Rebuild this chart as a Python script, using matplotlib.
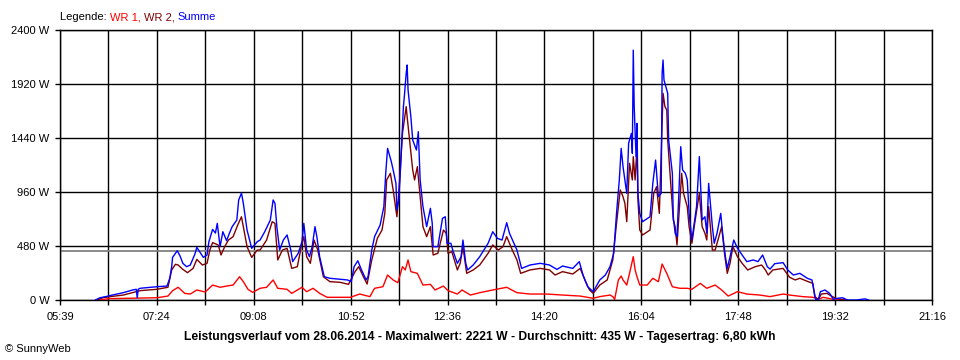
import matplotlib
matplotlib.use("Agg")
import matplotlib.pyplot as plt
from matplotlib.ticker import FixedLocator, NullFormatter

plt.rcParams['font.family'] = ['Liberation Sans', 'DejaVu Sans']

# ---------------- data ----------------
summe_t = ["06:17","06:22","06:31","06:33","06:47","06:57","07:01","07:02","07:03","07:05","07:23","07:34",
           "07:37","07:39","07:40","07:45","07:48","07:51","07:55","07:59","08:04","08:06","08:09","08:13",
           "08:17","08:19","08:23","08:26","08:28","08:31","08:34","08:38","08:41","08:44","08:49","08:51",
           "08:54","08:56","09:00","09:05","09:11","09:14","09:19","09:25","09:28","09:30","09:32","09:35",
           "09:39","09:43","09:47","09:49","09:55","09:59","10:01","10:04","10:07","10:10","10:13","10:15",
           "10:18","10:23","10:29","10:40","10:48","10:52","10:55","10:59","11:03","11:08","11:10","11:14",
           "11:17","11:23","11:27","11:29","11:31","11:35","11:37","11:40","11:41","11:43","11:45","11:48",
           "11:49","11:51","11:52","11:53","11:56","11:58","12:02","12:04","12:06","12:09","12:13","12:17",
           "12:19","12:20","12:25","12:30","12:33","12:35","12:39","12:41","12:46","12:50","12:52","12:55",
           "12:57","13:03","13:10","13:19","13:24","13:29","13:34","13:39","13:42","13:50","13:55","14:04",
           "14:15","14:25","14:33","14:39","14:50","14:57","15:01","15:06","15:12","15:17","15:19","15:25",
           "15:30","15:34","15:37","15:40","15:42","15:44","15:46","15:48","15:50","15:53","15:54","15:55",
           "15:56","15:58","15:59","16:00","16:02","16:05","16:13","16:16","16:19","16:22","16:25","16:26",
           "16:27","16:28","16:30","16:32","16:33","16:35","16:37","16:38","16:40","16:42","16:44","16:46",
           "16:48","16:51","16:53","16:55","16:58","17:00","17:03","17:06","17:09","17:12","17:14","17:16",
           "17:20","17:22","17:25","17:29","17:31","17:34","17:36","17:39","17:43","17:47","17:52","17:57",
           "18:04","18:09","18:14","18:19","18:22","18:27","18:36","18:41","18:47","18:54","19:02","19:07",
           "19:09","19:11","19:14","19:16","19:21","19:26","19:30","19:34","19:40","19:45","19:55","20:04",
           "20:08"]
summe_w = [0, 20, 35, 40, 65, 89, 95, 20, 95, 104, 118, 124,
           195, 296, 379, 438, 391, 326, 296, 311, 409, 468, 430, 379,
           400, 518, 628, 595, 681, 474, 607, 527, 593, 652, 711, 889,
           950, 859, 622, 459, 518, 533, 607, 711, 889, 859, 652, 444,
           533, 578, 444, 341, 415, 518, 681, 444, 385, 474, 652, 563,
           385, 207, 193, 184, 178, 163, 296, 349, 267, 178, 207, 444,
           563, 667, 830, 1126, 1348, 1230, 1156, 1037, 800, 889, 1185, 1719,
           1807, 2015, 2089, 1867, 1630, 1422, 1333, 1496, 1067, 830, 652, 815,
           681, 474, 474, 726, 740, 504, 504, 444, 326, 385, 533, 326,
           267, 311, 385, 504, 607, 548, 533, 687, 593, 444, 281, 311,
           326, 311, 272, 302, 281, 341, 222, 118, 74, 148, 178, 222,
           296, 415, 770, 1067, 1348, 1185, 1067, 948, 1393, 1481, 1304, 2221,
           1719, 1274, 1570, 948, 770, 696, 740, 1037, 1244, 918, 948, 2015,
           2133, 1956, 1896, 1837, 1422, 1274, 1126, 740, 593, 563, 948, 1363,
           1156, 1126, 1067, 770, 533, 652, 830, 1274, 711, 740, 593, 1037,
           652, 504, 593, 770, 593, 385, 281, 385, 533, 459, 400, 341,
           356, 341, 400, 296, 275, 323, 332, 267, 222, 237, 193, 178,
           89, 6, 6, 74, 89, 59, 6, 15, 20, 0, 0, 10,
           0]

wr2_t = ["06:19","06:25","06:33","06:47","07:05","07:23","07:35","07:39","07:43","07:46","07:51","07:56",
         "08:02","08:06","08:12","08:17","08:20","08:23","08:29","08:32","08:36","08:40","08:45","08:50",
         "08:54","08:56","09:00","09:05","09:11","09:14","09:21","09:27","09:30","09:33","09:38","09:43",
         "09:48","09:54","09:59","10:01","10:04","10:08","10:12","10:16","10:22","10:29","10:40","10:49",
         "10:56","11:00","11:05","11:09","11:14","11:20","11:25","11:28","11:30","11:34","11:37","11:41",
         "11:43","11:47","11:49","11:51","11:52","11:55","11:58","12:00","12:03","12:06","12:09","12:13",
         "12:17","12:20","12:25","12:31","12:34","12:36","12:40","12:46","12:49","12:52","12:56","13:03",
         "13:10","13:19","13:24","13:30","13:35","13:39","13:45","13:50","13:54","14:04","14:15","14:25",
         "14:31","14:39","14:50","14:58","15:03","15:08","15:12","15:19","15:27","15:33","15:37","15:41",
         "15:44","15:46","15:48","15:51","15:54","15:55","15:57","15:59","16:00","16:02","16:05","16:13",
         "16:17","16:20","16:23","16:26","16:27","16:29","16:31","16:32","16:35","16:38","16:40","16:42",
         "16:44","16:47","16:49","16:53","16:55","16:58","17:01","17:06","17:09","17:12","17:14","17:16",
         "17:20","17:23","17:26","17:30","17:33","17:36","17:39","17:42","17:47","17:52","17:58","18:06",
         "18:13","18:17","18:20","18:25","18:36","18:43","18:49","18:54","19:03","19:08","19:10","19:14",
         "19:17","19:23","19:29","19:34","19:40","19:45"]
wr2_w = [0, 20, 30, 44, 83, 95, 113, 267, 317, 311, 272, 243,
         281, 361, 311, 326, 444, 510, 489, 400, 474, 533, 563, 667,
         740, 652, 474, 379, 444, 444, 533, 696, 681, 356, 444, 459,
         281, 296, 504, 563, 385, 326, 533, 444, 207, 163, 157, 139,
         252, 296, 207, 142, 356, 548, 622, 770, 1067, 1126, 978, 740,
         948, 1481, 1600, 1719, 1630, 1393, 1156, 1067, 1185, 918, 652, 563,
         652, 400, 415, 622, 593, 415, 430, 267, 326, 474, 237, 267,
         311, 415, 489, 444, 474, 563, 444, 356, 237, 267, 281, 267,
         222, 252, 231, 281, 178, 89, 59, 133, 178, 356, 681, 978,
         918, 859, 696, 1215, 1067, 1274, 1067, 1363, 889, 622, 578, 622,
         948, 1007, 770, 1570, 1837, 1719, 1689, 1422, 1067, 711, 652, 489,
         740, 1126, 948, 830, 652, 504, 681, 948, 652, 593, 533, 830,
         444, 444, 533, 652, 415, 237, 326, 474, 385, 326, 267, 296,
         311, 267, 222, 267, 281, 202, 178, 193, 163, 148, 30, 6,
         53, 59, 30, 10, 5, 0]

wr1_t = ["06:22","06:31","07:23","07:35","07:40","07:46","07:53","07:59","08:06","08:15","08:23","08:31",
         "08:38","08:45","08:52","08:56","09:01","09:06","09:14","09:21","09:28","09:33","09:43","09:48",
         "09:59","10:04","10:11","10:18","10:26","10:51","10:58","11:01","11:12","11:17","11:26","11:31",
         "11:37","11:42","11:47","11:50","11:53","11:56","12:03","12:09","12:17","12:22","12:31","12:36",
         "12:46","12:51","13:00","13:10","13:24","13:39","13:50","14:04","14:22","14:39","14:58","15:12",
         "15:19","15:30","15:33","15:35","15:39","15:42","15:44","15:48","15:51","15:55","15:57","15:59",
         "16:02","16:10","16:16","16:22","16:26","16:31","16:37","16:45","16:53","16:58","17:07","17:14",
         "17:23","17:30","17:37","17:47","17:57","18:11","18:22","18:36","18:43","18:57","19:08","19:14",
         "19:19","19:30","19:37"]
wr1_w = [0, 12, 20, 35, 83, 113, 59, 53, 89, 71, 133, 113,
         124, 133, 207, 163, 95, 68, 104, 113, 178, 104, 95, 59,
         113, 74, 104, 59, 24, 24, 44, 53, 30, 104, 118, 222,
         178, 154, 296, 267, 356, 252, 237, 133, 139, 89, 124, 83,
         53, 89, 44, 65, 89, 113, 65, 53, 53, 44, 35, 15,
         30, 44, 30, 5, 178, 213, 178, 133, 237, 385, 267, 207,
         133, 133, 193, 163, 320, 237, 118, 104, 104, 95, 148, 104,
         133, 89, 35, 74, 53, 44, 30, 53, 44, 30, 24, 6,
         24, 6, 0]

durchschnitt = 435
x_labels = ["05:39", "07:24", "09:08", "10:52", "12:36", "14:20", "16:04", "17:48", "19:32", "21:16"]
y_values = [0, 480, 960, 1440, 1920, 2400]
title = ("Leistungsverlauf vom 28.06.2014 - Maximalwert: 2221 W - Durchschnitt: 435 W - "
         "Tagesertrag: 6,80 kWh")


def to_min(s):
    h, m = s.split(":")
    return int(h) * 60 + int(m)


x_start, x_end = to_min(x_labels[0]), to_min(x_labels[-1])

# ---------------- figure ----------------
fig = plt.figure(figsize=(9.6, 3.6), dpi=100)
ax = fig.add_axes([60 / 960, 1 - 300 / 360, 872 / 960, 270 / 360])

major = [x_start + k * (x_end - x_start) / 9 for k in range(10)]
minor = [x_start + (k + 0.5) * (x_end - x_start) / 9 for k in range(9)]

for xv in major + minor:
    ax.axvline(xv, color='black', lw=1.0, zorder=1)
for yv in y_values:
    ax.axhline(yv, color='black', lw=1.0, zorder=1)
ax.axhline(durchschnitt, color='#808080', lw=1.3, zorder=2)

ax.plot([to_min(t) for t in wr1_t], wr1_w, color='#FF0000', lw=1.0, zorder=3)
ax.plot([to_min(t) for t in wr2_t], wr2_w, color='#800000', lw=1.0, zorder=4)
ax.plot([to_min(t) for t in summe_t], summe_w, color='#0000FF', lw=1.0, zorder=5)

ax.set_xlim(x_start, x_end)
ax.set_ylim(0, 2400)
ax.set_xticks(major)
ax.set_xticklabels(x_labels)
ax.xaxis.set_minor_locator(FixedLocator(minor))
ax.xaxis.set_minor_formatter(NullFormatter())
ax.set_yticks(y_values)
ax.set_yticklabels([f"{v} W" for v in y_values])
ax.tick_params(axis='both', which='both', direction='out', length=3.5, width=1.0,
               labelsize=8, colors='black')
ax.tick_params(axis='x', pad=5)
ax.tick_params(axis='y', pad=4)
for sp in ax.spines.values():
    sp.set_color('black')
    sp.set_linewidth(1.0)

# legend line
t0 = fig.text(60 / 960, 1 - 17 / 360, "Legende: ", fontsize=8, color='black', va='center')
t1 = ax.annotate("WR 1, ", xycoords=t0, xy=(1, 0), va='bottom', fontsize=8, color='#FF0000',
                 annotation_clip=False)
t2 = ax.annotate("WR 2, ", xycoords=t1, xy=(1, 0), va='bottom', fontsize=8, color='#800000',
                 annotation_clip=False)
t3 = ax.annotate("Summe", xycoords=t2, xy=(1, 0), va='bottom', fontsize=8, color='#0000FF',
                 annotation_clip=False)

fig.text(480 / 960, 1 - 337 / 360, title, fontsize=8.7, fontweight='bold', ha='center', va='center')
fig.text(5 / 960, 1 - 349 / 360, "\u00a9 SunnyWeb", fontsize=8, ha='left', va='center')

fig.savefig("out.png", dpi=100, facecolor='white')
